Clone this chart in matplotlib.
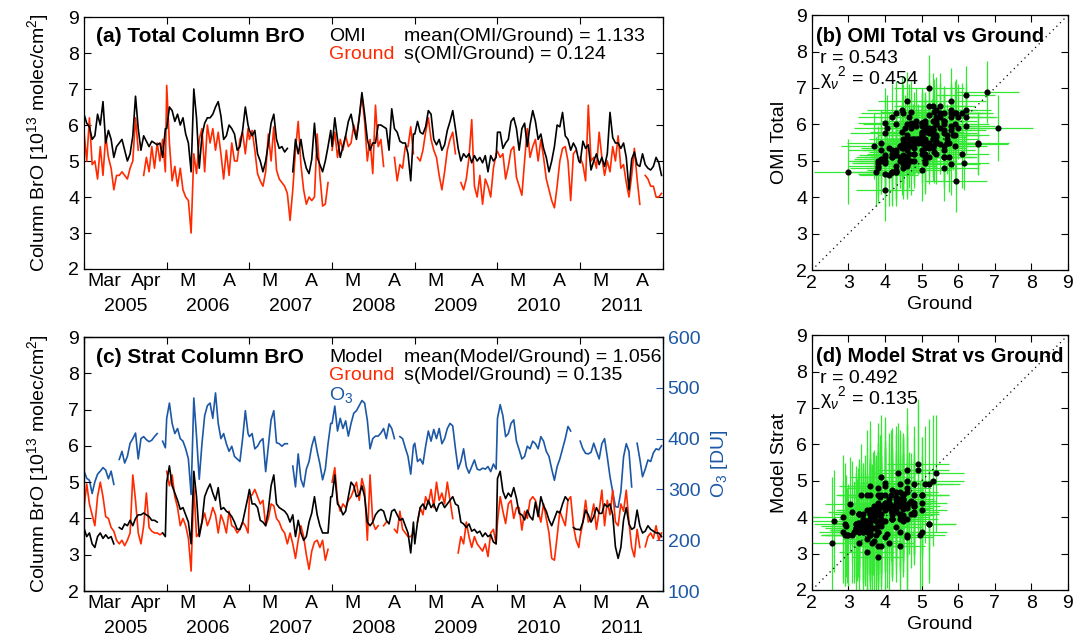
import numpy as np
import matplotlib
matplotlib.use('Agg')
import matplotlib.pyplot as plt
from matplotlib.transforms import blended_transform_factory

nan = float('nan')

# ---------------- data (values every 2 days, 1 Mar - 30 Apr of each year) ----------------
YEARS = ['2005', '2006', '2007', '2008', '2009', '2010', '2011']
MONTH_LABELS = [('Mar', 'Apr'), ('M', 'A'), ('M', 'A'), ('M', 'A'), ('M', 'A'), ('M', 'A'), ('M', 'A')]

# panel (a): OMI total column BrO
omi_2005 = [6.3, 6.05, 5.95, 5.6, 5.7, 6.3, 6.0, 6.65, 5.5, 5.85, 5.6, 5.1, 5.4, 5.5, 5.6, 5.3, 5.0, 5.2, 5.7, 6.8, 5.9, 5.3, 5.7, 5.55, 5.4, 5.55, 5.5, 5.45, 5.5, 5.1, 5.9]
omi_2006 = [5.9, 6.5, 6.4, 6.1, 6.3, 6.0, 6.2, 5.75, 5.5, 4.7, 7.0, 6.2, 4.8, 5.7, 6.05, 6.2, 6.2, 6.3, 6.5, 6.65, 6.25, 5.6, 5.7, 6.0, 5.9, 5.75, 5.3, 5.4, 5.85, 6.5, 6.0]
omi_2007 = [5.85, 5.7, 5.85, 5.2, 5.0, 4.7, 5.0, 5.5, 6.05, 6.3, 5.6, 5.35, 5.4, 5.25, 5.35, nan, 4.7, 5.6, 5.2, 5.6, 5.1, 4.8, 4.65, 5.05, 6.05, 5.1, 4.9, 4.7, 5.0, 5.4, 5.85]
omi_2008 = [5.4, 6.2, 5.6, 5.1, 5.4, 5.7, 6.1, 6.3, 5.9, 5.6, 6.2, 6.9, 6.3, 5.6, 5.3, 5.5, 5.5, 6.0, 6.0, 5.95, 5.9, 5.3, 6.45, 5.9, 5.8, 5.55, 5.5, 5.5, 5.2, 4.45, 5.75]
omi_2009 = [5.75, 6.1, 5.8, 5.75, 5.95, 6.4, 6.3, 5.6, 5.45, 5.6, 5.3, 5.45, 5.85, 6.1, 6.4, 5.9, 5.35, 5.0, 5.2, 5.1, 5.2, 4.95, 5.15, 5.0, 5.1, 4.95, 5.15, 4.7, 5.15, 5.0, 5.1]
omi_2010 = [5.8, 5.8, 5.35, 5.5, 5.6, 6.1, 6.2, 5.9, 5.3, 5.9, 6.05, 5.4, 6.0, 6.4, 6.1, 5.6, 5.75, 5.35, 5.1, 4.7, 5.0, 5.4, 6.0, 5.95, 6.35, 5.7, 5.6, 5.3, 5.5, 5.35, 5.0]
omi_2011 = [4.95, 5.55, 5.35, 5.45, 4.75, 5.0, 5.2, 4.9, 5.1, 4.85, 5.2, 6.35, 5.65, 5.5, 5.5, 5.35, 5.5, 5.1, 4.2, 5.05, 5.25, 4.9, 4.85, 5.2, 4.9, 4.8, 4.75, 4.85, 5.1, 4.95, 4.6]

# panel (a): ground-based total column BrO
ground_2005 = [5.8, 5.0, 6.2, 4.9, 5.0, 4.5, 5.4, 4.6, 5.7, 5.1, 4.8, 4.2, 4.6, 4.6, 4.7, 4.6, 4.5, 4.8, 5.0, 6.2, 5.3, nan, 4.6, 5.1, 4.7, 5.4, 4.8, 5.5, 5.0, 5.6, 4.7]
ground_2006 = [7.1, 5.5, 4.45, 4.85, 4.3, 4.8, 4.2, 4.0, 3.9, 3.0, 5.2, 4.65, 5.6, 5.9, 4.7, 6.0, 5.5, 5.9, 5.3, 5.8, 5.2, 4.5, 5.3, 4.6, 5.5, 5.0, 5.0, 5.6, 5.8, 5.2, 5.9]
ground_2007 = [5.6, 5.85, 5.3, 4.65, 4.45, 4.3, 4.7, 5.75, 5.0, 5.95, 4.75, 4.5, 4.4, 4.3, 4.1, 3.35, 4.2, 5.3, 6.1, 4.9, 4.2, 3.8, 4.0, 3.9, 4.0, 5.75, 4.6, 3.75, 3.8, 4.4, nan]
ground_2008 = [5.3, 5.8, 5.1, 5.6, 5.3, 5.7, 5.4, 5.5, 6.0, 5.7, 6.2, 6.8, 6.1, 5.0, 5.6, 4.65, 6.55, 5.4, 5.6, 4.85, nan, nan, nan, 5.1, 4.45, 4.9, 4.8, 5.4, 5.4, 5.95, 5.2]
ground_2009 = [nan, 5.1, 5.0, 5.3, 5.8, 6.2, 5.6, 5.3, 5.1, 4.6, 4.2, 4.7, 5.3, 5.6, 5.8, 5.2, nan, 4.4, 4.2, 4.5, 5.1, 6.15, 4.3, 4.0, 4.6, 3.8, 4.5, 4.3, 4.0, 4.8, 5.2]
ground_2010 = [5.27, 5.1, 5.2, 4.5, 4.85, 5.3, 5.4, 4.55, 4.3, 4.05, 5.0, 5.9, 5.1, 5.4, 5.6, 5.0, 5.6, 5.1, 4.5, 4.2, 3.9, 3.7, 4.3, 5.0, 5.35, 5.4, 5.0, 3.9, 5.2, 5.3, nan]
ground_2011 = [5.1, 4.9, 4.45, 6.55, 5.0, 5.1, 4.8, 5.8, 5.1, 4.6, 5.0, 4.7, 5.4, 5.0, 5.7, 4.8, 4.9, 4.4, 4.0, 4.6, 5.35, 4.5, 3.8, nan, 4.6, 4.5, 4.3, 4.3, 4.0, 4.0, 4.1]

# panel (c): model stratospheric column BrO
model_2005 = [3.73, 3.5, 3.6, 3.3, 3.2, 3.5, 3.6, 3.45, 3.55, 3.45, 3.5, 3.3, nan, 3.75, 3.7, 3.85, 3.8, 3.95, 3.8, 4.0, 4.1, 4.1, 4.15, 4.1, 4.05, 3.95, 3.95, 3.9, nan, 3.6, 3.5]
model_2006 = [5.0, 5.45, 4.9, 4.7, 4.5, 4.25, 4.3, 4.1, 3.9, 3.3, 5.3, 4.6, 3.5, 3.9, 4.6, 4.8, 4.95, 4.7, 4.5, 4.85, 4.25, 4.3, 4.2, 4.15, 4.05, 3.9, 3.7, 3.7, 3.9, 4.25, 4.6]
model_2007 = [4.8, 4.4, 4.4, 4.3, 3.95, 3.9, 3.8, 4.25, 4.9, 5.2, 4.4, 4.3, 4.25, 4.2, 4.1, 3.9, 4.1, 3.5, 3.95, 3.6, 3.4, 3.5, 3.9, 4.15, 4.6, 4.1, 3.8, 3.6, 3.6, 3.6, 4.6]
model_2008 = [4.6, 5.2, 4.4, 4.3, 4.1, 4.2, 4.6, 5.0, 4.9, 4.6, 4.65, 4.9, 4.6, 3.9, 3.8, 3.9, 4.1, 4.2, 4.25, 4.2, 3.95, 3.85, 4.2, 4.25, 4.1, 3.95, 4.0, 3.8, 3.6, 3.05, 3.9]
model_2009 = [3.3, 3.9, 4.3, 4.4, 4.25, 4.5, 4.3, 4.4, 4.2, 4.4, 4.45, 4.3, 4.4, 4.5, 4.6, 4.4, 4.35, 3.9, 3.85, 3.75, 3.85, 3.65, 3.7, 3.6, 3.65, 3.5, 3.6, 3.5, 3.55, 3.35, 3.3]
model_2010 = [5.1, 5.3, 4.75, 4.55, 4.7, 4.6, 4.85, 4.55, 4.14, 4.1, 3.96, 4.23, 4.05, 3.96, 4.45, 4.05, 4.6, 4.35, 4.2, 3.96, 3.8, 4.0, 4.2, 4.15, 4.4, 4.6, 4.5, nan, 3.75, 3.7, 3.7]
model_2011 = [3.68, 3.9, 4.23, 4.1, 3.9, 4.05, 4.3, 4.14, 4.14, 4.4, 4.32, 4.4, 4.1, 3.22, 2.9, 3.2, 3.96, 4.3, 3.85, 3.7, 3.75, 4.23, 3.8, 3.6, 3.65, 3.8, 3.7, 3.65, 3.6, 3.6, 3.5]

# panel (c): ground-based stratospheric column BrO
groundc_2005 = [4.3, 4.95, 4.4, 4.1, 3.8, 4.6, 5.0, 4.6, 4.05, 4.0, 3.75, 3.65, 3.4, 3.3, 3.4, 3.25, 3.4, 3.6, 5.2, 4.5, 3.6, 3.3, 3.8, 4.7, 3.75, 3.65, 3.6, 3.6, 3.55, 3.6, nan]
groundc_2006 = [5.3, 4.9, 5.2, 4.6, 4.3, 3.8, 4.0, 3.8, 3.45, 2.55, 4.9, 3.5, 3.6, 3.9, 4.15, 3.8, 4.0, 4.3, 4.1, 3.6, 4.1, 3.9, 3.6, 4.2, 3.8, 3.75, 3.6, 3.7, 3.9, 3.8, 3.6]
groundc_2007 = [4.6, 4.65, 4.8, 4.6, 4.4, 4.5, 3.8, 4.0, 4.4, 4.35, 4.0, 3.9, 3.7, 3.6, 3.3, 3.6, 3.3, 2.9, 3.4, 3.8, 3.5, 3.0, 2.6, 3.1, 3.35, 3.4, 3.2, 3.4, 2.85, 3.15, nan]
groundc_2008 = [5.0, 5.4, 4.5, 4.2, 4.4, 4.3, 4.5, 4.6, 4.8, 5.0, 4.5, 5.1, 4.8, 3.4, 5.2, 3.9, 3.7, 3.8, nan, 3.8, 3.9, nan, nan, 3.7, 3.6, 4.2, 3.7, 3.6, 3.5, 3.5, 3.6]
groundc_2009 = [nan, 3.9, 4.3, 4.1, 4.6, 4.4, 4.8, 4.3, 5.0, 4.5, 4.7, 4.4, 5.0, 4.5, 4.0, nan, 3.05, 3.5, 3.3, 3.9, 3.5, 3.2, 3.5, 3.3, 3.2, 3.1, 3.3, 2.95, 3.6, 3.7, 3.3]
groundc_2010 = [3.9, 4.6, 4.2, 3.86, 4.4, 4.5, 4.0, 4.3, 4.3, 3.68, 4.2, 4.0, 4.5, 4.6, 4.5, 4.2, 3.9, 4.4, 4.0, 3.6, 2.9, 2.85, 3.5, 4.2, 4.0, 3.8, 4.5, 4.6, 3.8, 3.4, 3.2]
groundc_2011 = [3.5, 3.9, 4.5, 3.9, 4.0, 4.4, 3.7, 4.2, 4.78, 3.8, 4.5, 4.1, 4.78, 3.9, 3.8, 4.4, 4.2, 4.78, 3.9, 3.2, 2.94, 3.7, 3.2, nan, 3.22, 3.5, 3.6, 3.45, 3.8, 3.4, 3.6]

# panel (c): total ozone [DU]
o3_2005 = [336, 322, 318, 292, 315, 330, 336, 343, 338, 321, 336, 310, nan, 359, 375, 352, 365, 391, 400, 411, 360, 400, 404, 398, 394, 397, 404, 410, nan, 395, 382]
o3_2006 = [440, 470, 430, 410, 420, 400, 395, 380, 360, 290, 480, 405, 320, 390, 445, 465, 470, 440, 490, 430, 400, 410, 390, 375, 385, 365, 360, 355, 400, 455, 410]
o3_2007 = [404, 410, 380, 385, 395, 400, 335, 385, 437, 455, 392, 390, 385, 390, 390, nan, 346, 305, 370, 320, 305, 340, 355, 385, 404, 375, 350, 319, 340, 390, 430]
o3_2008 = [430, 464, 415, 440, 420, 435, 405, 430, 450, 455, 465, 475, 470, 436, 380, 400, 405, 405, 411, 420, 400, 429, 420, 400, nan, 404, 400, 382, 365, 330, 386]
o3_2009 = [391, 355, 360, 350, 385, 415, 395, 418, 400, 420, 390, 400, 420, 430, 425, 380, 340, 355, 380, 345, 332, 345, 358, 340, 338, 342, 340, 345, 335, 350, 340]
o3_2010 = [440, 467, 445, 404, 410, 430, 437, 395, 378, 360, 365, 385, 380, 395, 390, 380, 404, 395, 375, 365, 340, 318, 345, 360, 380, 400, 424, 415, nan, nan, nan]
o3_2011 = [395, 380, 371, 370, 373, 391, 375, 360, 390, 400, 364, 325, 295, 266, 265, 295, 364, 390, 375, 305, nan, 391, 360, 325, 340, 358, 355, 372, 380, 378, 386]

# typical 1-sigma uncertainties per year (scatter panels)
err_ground_a = [0.8, 0.95, 0.75, 0.85, 0.7, 0.9, 0.8]
err_omi = [0.8, 0.9, 0.95, 0.85, 0.75, 0.9, 0.85]
err_ground_c = [0.7, 0.85, 0.65, 0.75, 0.7, 0.85, 0.7]
err_model = [1.5, 1.8, 1.4, 1.6, 1.3, 1.7, 1.4]

stats_a = ('mean(OMI/Ground) = 1.133', 's(OMI/Ground) = 0.124')
stats_c = ('mean(Model/Ground) = 1.056', 's(Model/Ground) = 0.135')
stats_b = ('r = 0.543', r'χ$_{\nu}^{\ \ 2}$ = 0.454')
stats_d = ('r = 0.492', r'χ$_{\nu}^{\ \ 2}$ = 0.135')

# ---------------- assembly ----------------
SEG = 61
STEP = 2
omi = np.concatenate([omi_2005, omi_2006, omi_2007, omi_2008, omi_2009, omi_2010, omi_2011])
ground = np.concatenate([ground_2005, ground_2006, ground_2007, ground_2008, ground_2009, ground_2010, ground_2011])
model = np.concatenate([model_2005, model_2006, model_2007, model_2008, model_2009, model_2010, model_2011])
groundc = np.concatenate([groundc_2005, groundc_2006, groundc_2007, groundc_2008, groundc_2009, groundc_2010, groundc_2011])
o3 = np.concatenate([o3_2005, o3_2006, o3_2007, o3_2008, o3_2009, o3_2010, o3_2011])
n_per = len(omi_2005)
days = np.arange(0, SEG, STEP)
t = np.concatenate([k * SEG + days for k in range(len(YEARS))])

RED = '#ff2a00'
BLUE = '#1c58a6'
GREEN = '#33e833'
FS = 14
TFS = 15
SFS = 14.5

plt.rcParams['font.family'] = ['Liberation Sans', 'DejaVu Sans']
plt.rcParams['mathtext.fontset'] = 'custom'
plt.rcParams['mathtext.rm'] = 'Liberation Sans'
plt.rcParams['mathtext.it'] = 'Liberation Sans:italic'
plt.rcParams['mathtext.bf'] = 'Liberation Sans:bold'
plt.rcParams['font.size'] = FS
plt.rcParams['axes.linewidth'] = 0.9

fig = plt.figure(figsize=(10.84, 6.42), dpi=100)
axa = fig.add_axes([0.0775, 0.581, 0.534, 0.3925])
axc = fig.add_axes([0.0775, 0.0794, 0.534, 0.3956])
axb = fig.add_axes([0.749, 0.5794, 0.2362, 0.397])
axd = fig.add_axes([0.749, 0.081, 0.2362, 0.397])


def style_time(ax, right=True):
    ax.set_xlim(0, len(YEARS) * SEG)
    ax.set_ylim(2, 9)
    ax.set_yticks(range(2, 10))
    ax.set_xticks([SEG * k for k in range(len(YEARS) + 1)])
    ax.set_xticklabels([])
    ax.tick_params(which='major', direction='in', length=5, top=True, right=right, labelsize=FS)
    pos, lab = [], []
    for k, (m1, m2) in enumerate(MONTH_LABELS):
        pos += [SEG * k + 15, SEG * k + 46]
        lab += [m1, m2]
    ax.set_xticks(pos, minor=True)
    ax.set_xticklabels(lab, minor=True, fontsize=FS)
    ax.tick_params(which='minor', length=0, pad=3)
    tr = blended_transform_factory(ax.transData, ax.transAxes)
    for k, y in enumerate(YEARS):
        ax.text(SEG * k + SEG / 2, -0.148, y, transform=tr, ha='center', va='center', fontsize=FS)
    ax.set_ylabel(r'Column BrO [10$^{13}$ molec/cm$^{2}$]', fontsize=FS, labelpad=12)


# panel (a)
axa.plot(t, ground, color=RED, lw=1.2, zorder=2)
axa.plot(t, omi, color='k', lw=1.2, zorder=3)
style_time(axa)
axa.text(9, 8.45, '(a) Total Column BrO', fontweight='bold', fontsize=TFS, va='center')
axa.text(181, 8.45, 'OMI', color='k', va='center')
axa.text(181, 7.95, 'Ground', color=RED, va='center')
axa.text(236, 8.45, stats_a[0], va='center')
axa.text(236, 7.95, stats_a[1], va='center')

# panel (c)
axc2 = axc.twinx()
axc2.plot(t, o3, color=BLUE, lw=1.2)
axc2.set_ylim(100, 600)
axc2.set_yticks(range(100, 601, 100))
axc2.tick_params(direction='in', length=5, colors=BLUE, labelsize=FS)
axc2.spines['right'].set_color(BLUE)
axc2.set_ylabel(r'O$_3$ [DU]', color=BLUE, fontsize=FS, labelpad=6)
axc.plot(t, groundc, color=RED, lw=1.2, zorder=2)
axc.plot(t, model, color='k', lw=1.2, zorder=3)
style_time(axc, right=False)
axc.set_zorder(axc2.get_zorder() + 1)
axc.patch.set_visible(False)
axc.text(9, 8.45, '(c) Strat Column BrO', fontweight='bold', fontsize=TFS, va='center')
axc.text(181, 8.45, 'Model', color='k', va='center')
axc.text(181, 7.93, 'Ground', color=RED, va='center')
axc.text(181, 7.40, r'O$_3$', color=BLUE, va='center')
axc.text(236, 8.45, stats_c[0], va='center')
axc.text(236, 7.93, stats_c[1], va='center')


def scatter_panel(ax, x, y, ex, ey, title, stats, ylabel):
    m = np.isfinite(x) & np.isfinite(y)
    ax.errorbar(x[m], y[m], xerr=ex[m], yerr=ey[m], fmt='none', ecolor=GREEN,
                elinewidth=0.9, capsize=0, zorder=2)
    ax.plot(x[m], y[m], 'o', ms=3.4, color='k', zorder=3)
    ax.plot([2, 9], [2, 9], ls=(0, (1, 3)), color='k', lw=0.9, zorder=4)
    ax.set_xlim(2, 9)
    ax.set_ylim(2, 9)
    ax.set_xticks(range(2, 10))
    ax.set_yticks(range(2, 10))
    ax.tick_params(direction='in', length=5, top=True, right=True, labelsize=FS)
    ax.set_xlabel('Ground', fontsize=FS, labelpad=3)
    ax.set_ylabel(ylabel, fontsize=FS, labelpad=6)
    ax.text(2.1, 8.42, title, fontweight='bold', fontsize=SFS, va='center', zorder=5)
    ax.text(2.22, 7.8, stats[0], va='center', zorder=5)
    ax.text(2.22, 7.25, stats[1], va='center', zorder=5)


ex_a = np.repeat(err_ground_a, n_per)
ey_a = np.repeat(err_omi, n_per)
ex_c = np.repeat(err_ground_c, n_per)
ey_c = np.repeat(err_model, n_per)
scatter_panel(axb, ground, omi, ex_a, ey_a, '(b) OMI Total vs Ground', stats_b, 'OMI Total')
scatter_panel(axd, groundc, model, ex_c, ey_c, '(d) Model Strat vs Ground', stats_d, 'Model Strat')

fig.savefig('out.png', dpi=100)
